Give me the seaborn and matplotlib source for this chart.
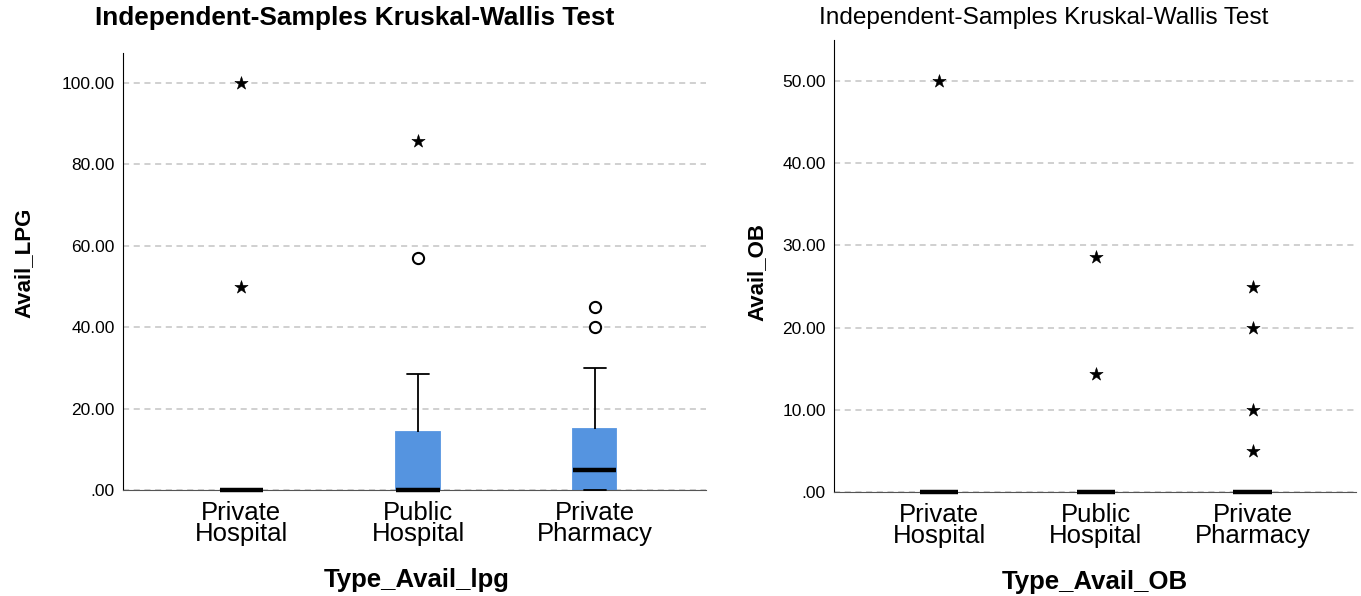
import numpy as np
import pandas as pd
import matplotlib
matplotlib.use("Agg")
import matplotlib.pyplot as plt
import seaborn as sns

# categories shared by both panels
categories = ["Private\nHospital", "Public\nHospital", "Private\nPharmacy"]

# Avail_LPG raw values per provider type
lpg_private_hospital = [0] * 12 + [50.0, 100.0]
lpg_public_hospital = [0] * 7 + [14.3, 14.3, 14.3, 28.6, 57.1, 85.7]
lpg_private_pharmacy = [0, 0, 0, 0, 5, 5, 5, 10, 15, 15, 30, 40, 45]

# Avail_OB raw values per provider type
ob_private_hospital = [0] * 12 + [50.0]
ob_public_hospital = [0] * 12 + [14.3, 28.6]
ob_private_pharmacy = [0] * 14 + [5, 10, 20, 25]

lpg_ticks = [0, 20, 40, 60, 80, 100]
ob_ticks = [0, 10, 20, 30, 40, 50]

BLUE = "#5594E0"
GRID = "#c4c4c4"
FONT = "Liberation Sans"


def make_df(groups):
    rows = []
    for cat, vals in zip(categories, groups):
        rows += [(cat, v) for v in vals]
    return pd.DataFrame(rows, columns=["type", "value"])


def spss_fmt(v):
    s = f"{v:.2f}"
    return s[1:] if s.startswith("0") else s


def draw_panel(ax, df, ticks, ylim, xlim):
    sns.boxplot(data=df, x="type", y="value", order=categories, ax=ax,
                color=BLUE, saturation=1, width=0.245, whis=1.5,
                showfliers=False, linecolor="black", linewidth=1.3,
                boxprops=dict(edgecolor=BLUE),
                medianprops=dict(color="black", linewidth=3.2))
    for ln in ax.lines:
        ln.set_clip_on(False)
        ln.set_zorder(4)
    # outliers: circles (>1.5 IQR), stars (>3 IQR), SPSS style
    for i, cat in enumerate(categories):
        v = df.loc[df["type"] == cat, "value"].to_numpy()
        q1, q3 = np.percentile(v, [25, 75])
        iqr = q3 - q1
        ext = v[(v > q3 + 3 * iqr) | (v < q1 - 3 * iqr)]
        out = v[((v > q3 + 1.5 * iqr) & (v <= q3 + 3 * iqr)) |
                ((v < q1 - 1.5 * iqr) & (v >= q1 - 3 * iqr))]
        ext = ext[ext != q3]
        out = out[out != q3]
        ax.scatter([i] * len(ext), ext, marker="*", s=100, color="black",
                   linewidths=0.4, zorder=5)
        ax.scatter([i] * len(out), out, marker="o", s=65, facecolor="white",
                   edgecolor="black", linewidths=1.5, zorder=5)
    ax.set_xlim(*xlim)
    ax.set_ylim(*ylim)
    ax.set_yticks(ticks)
    ax.set_yticklabels([spss_fmt(t) for t in ticks], fontsize=12.5,
                       family=FONT, color="black")
    ax.set_xticks(range(len(categories)))
    ax.set_xticklabels(categories, fontsize=18.5, family=FONT,
                       linespacing=0.85, color="black")
    ax.tick_params(axis="both", length=0, pad=6)
    ax.tick_params(axis="x", pad=8)
    ax.yaxis.grid(True, color=GRID, linestyle=(0, (4, 3)), linewidth=1.1)
    ax.xaxis.grid(False)
    ax.set_axisbelow(True)
    for s in ["top", "right"]:
        ax.spines[s].set_visible(False)
    ax.spines["left"].set_color("black")
    ax.spines["bottom"].set_color("#555555")
    ax.set_xlabel("")
    ax.set_ylabel("")


sns.set_style("white")
plt.rcParams["font.family"] = [FONT, "DejaVu Sans"]
plt.rcParams["text.color"] = "black"

fig = plt.figure(figsize=(13.61, 5.96), dpi=100)
ax1 = fig.add_axes([123 / 1361, 1 - 490 / 596, 583 / 1361, 437 / 596])
ax2 = fig.add_axes([834 / 1361, 1 - 492 / 596, 522 / 1361, 452 / 596])

draw_panel(ax1, make_df([lpg_private_hospital, lpg_public_hospital,
                         lpg_private_pharmacy]),
           lpg_ticks, (0, 107.4), (-0.67, 2.63))
draw_panel(ax2, make_df([ob_private_hospital, ob_public_hospital,
                         ob_private_pharmacy]),
           ob_ticks, (0, 55), (-0.67, 2.66))

fig.text(355 / 1361, 1 - 18 / 596, "Independent-Samples Kruskal-Wallis Test",
         ha="center", va="center", fontsize=18.9, fontweight="bold",
         family=FONT)
fig.text(1044 / 1361, 1 - 18 / 596, "Independent-Samples Kruskal-Wallis Test",
         ha="center", va="center", fontsize=17.6, family=FONT)

fig.text(24 / 1361, 1 - 263 / 596, "Avail_LPG", rotation=90, ha="center",
         va="center", fontsize=16, fontweight="bold", family=FONT)
fig.text(757 / 1361, 1 - 272 / 596, "Avail_OB", rotation=90, ha="center",
         va="center", fontsize=16, fontweight="bold", family=FONT)

fig.text(417 / 1361, 1 - 580 / 596, "Type_Avail_lpg", ha="center",
         va="center", fontsize=18.5, fontweight="bold", family=FONT)
fig.text(1095 / 1361, 1 - 582 / 596, "Type_Avail_OB", ha="center",
         va="center", fontsize=18.5, fontweight="bold", family=FONT)

fig.savefig("out.png", dpi=100)
